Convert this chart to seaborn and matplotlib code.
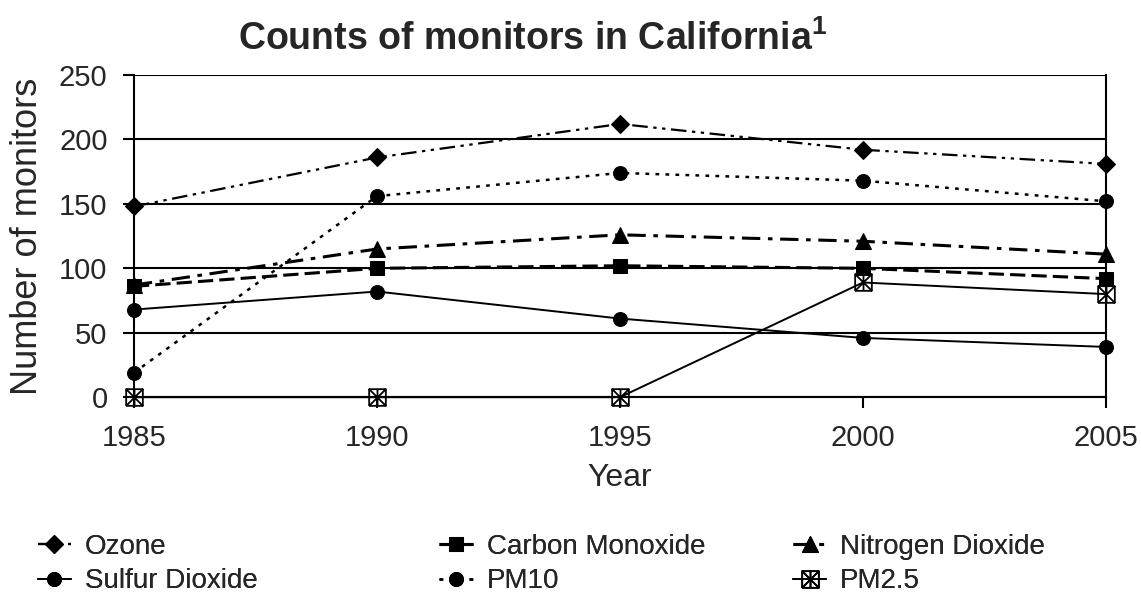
import numpy as np
import pandas as pd
import seaborn as sns
import matplotlib.pyplot as plt
from matplotlib.path import Path

sns.set_style("white")
plt.rcParams['font.family'] = ['Liberation Sans', 'DejaVu Sans']

# data
years = [1985, 1990, 1995, 2000, 2005]
ozone = [148, 186, 212, 192, 181]
carbon_monoxide = [86, 100, 102, 100, 92]
nitrogen_dioxide = [87, 115, 126, 121, 111]
sulfur_dioxide = [68, 82, 61, 46, 39]
pm10 = [19, 156, 174, 168, 152]
pm25 = [0, 0, 0, 89, 80]

# boxed asterisk marker for PM2.5
M, L = Path.MOVETO, Path.LINETO
box_x = Path([(-1, -1), (1, -1), (1, 1), (-1, 1), (-1, -1),
              (-1, -1), (1, 1), (-1, 1), (1, -1), (0, -1), (0, 1)],
             [M, L, L, L, L, M, L, M, L, M, L])

series = [
    ("Ozone", ozone, dict(marker="D", ms=9, lw=1.6, linestyle=(0, (7, 2.5, 1.5, 2.5, 1.5, 2.5)))),
    ("Carbon Monoxide", carbon_monoxide, dict(marker="s", ms=10, lw=2.2, linestyle=(0, (5, 2)))),
    ("Nitrogen Dioxide", nitrogen_dioxide, dict(marker="^", ms=11, lw=2.2, linestyle=(0, (6, 2.5, 1.5, 2.5)))),
    ("Sulfur Dioxide", sulfur_dioxide, dict(marker="o", ms=10, lw=1.4, linestyle="-")),
    ("PM10", pm10, dict(marker="o", ms=10, lw=1.8, linestyle=(0, (1.5, 2.5)))),
    ("PM2.5", pm25, dict(marker=box_x, ms=12, lw=1.4, linestyle="-", mfc="none", mew=1.3)),
]

fig = plt.figure(figsize=(11.41, 6), dpi=100)
ax = fig.add_axes([0.1174, 0.338, 0.8519, 0.537])

for name, vals, kw in series:
    df = pd.DataFrame({"Year": years, "Count": vals})
    sns.lineplot(data=df, x="Year", y="Count", color="black", mec="black",
                 ax=ax, label=name, clip_on=False, **kw)

h, l = ax.get_legend_handles_labels()
handles = dict(zip(l, h))
ax.get_legend().remove()

ax.set_xlim(1985, 2005)
ax.set_ylim(0, 250)
ax.set_xticks(years)
ax.set_yticks([0, 50, 100, 150, 200, 250])
ax.yaxis.grid(True, color="black", lw=1.5)
ax.set_axisbelow(True)
for s in ["left", "right", "bottom"]:
    ax.spines[s].set_color("black")
    ax.spines[s].set_linewidth(1.5)
ax.spines["top"].set_visible(False)
ax.tick_params(axis="both", direction="out", length=8, width=1.5,
               color="black", labelsize=21, pad=11, left=True, bottom=True)
ax.set_xlabel("Year", fontsize=23, labelpad=8)
ax.set_ylabel("Number of monitors", fontsize=26, labelpad=10)
fig.text(0.467, 0.935, "Counts of monitors in California$^{\\mathregular{1}}$",
         fontsize=27, fontweight="bold", ha="center", va="center")

# three legend columns like the original
cols = [(["Ozone", "Sulfur Dioxide"], 0.033),
        (["Carbon Monoxide", "PM10"], 0.385),
        (["Nitrogen Dioxide", "PM2.5"], 0.695)]
for names, x0 in cols:
    leg = fig.legend([handles[n] for n in names], names, loc="upper left",
                     bbox_to_anchor=(x0, 0.11), frameon=False, fontsize=20,
                     handlelength=1.2, handletextpad=0.5, labelspacing=0.3,
                     borderaxespad=0, borderpad=0)
    fig.add_artist(leg)

fig.savefig("out.png", dpi=100)
